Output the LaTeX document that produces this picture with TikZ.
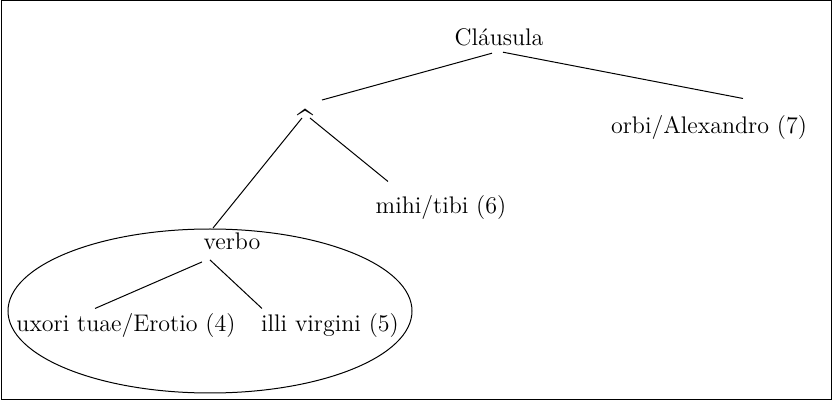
\documentclass[tikz,border=0pt]{standalone}
\usepackage{amsmath}
\usepackage{amssymb}
\usetikzlibrary{calc,shapes.geometric}

\begin{document}
\begin{tikzpicture}[x=0.5pt, y=-0.5pt, line width=0.5pt,
    every node/.style={inner sep=2pt, font=\fontsize{12}{14}\selectfont},
    branch/.style={draw}
    ]
    \useasboundingbox (0,0) rectangle (832,401);
    \draw (1,1) rectangle (831,400);

    % Root node
    \node (clausula) at (499,37) {Cl\'ausula};
    \node (orbi) at (709,128) {orbi/Alexandro (7)};
    \node[inner sep=0pt] (wedge) at (306,123) {\scalebox{1.2}[1.6]{\textasciicircum}};
    \node (mihi) at (441,208) {mihi/tibi (6)};
    % Left subtree
    \node (verbo) at (232,241) {verbo};
    \node (uxori) at (126,326) {uxori tuae/Erotio (4)};
    \node (illi) at (330,326) {illi virgini (5)};
    \node[draw, ellipse, minimum width=202pt, minimum height=82pt] (group) at (210,311) {};

    % Branches
    \draw[branch] ($(wedge.center)+(16,-23)$) -- ($(clausula.south)+(-7,3)$);
    \draw[branch] ($(clausula.south)+(4,2)$) -- ($(orbi.north)+(34,-13)$);
    \draw[branch] ($(wedge.center)+(-4,-5)$) -- ($(verbo.north)+(-19,0)$);
    \draw[branch] ($(wedge.center)+(4,-5)$) -- ($(mihi.north)+(-53,-10)$);
    \draw[branch] ($(verbo.south)+(-30,8)$) -- ($(uxori.north)+(-31,-1)$);
    \draw[branch] ($(verbo.south)+(-22,6)$) -- ($(illi.north)+(-68,-1)$);
\end{tikzpicture}
\end{document}
